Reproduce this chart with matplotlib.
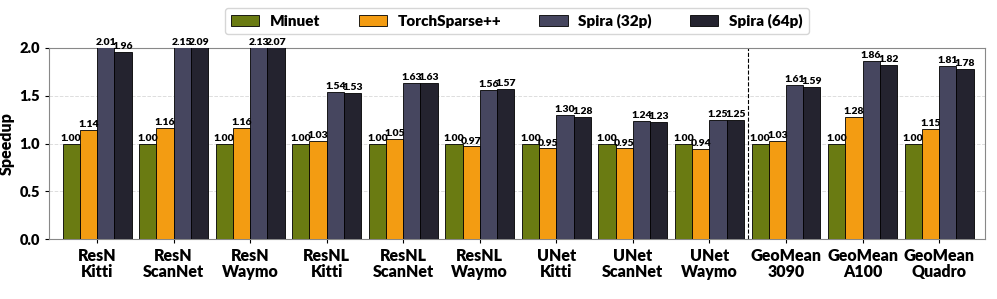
import matplotlib
matplotlib.use("Agg")
import matplotlib.pyplot as plt
import numpy as np

categories = ["ResN\nKitti", "ResN\nScanNet", "ResN\nWaymo", "ResNL\nKitti", "ResNL\nScanNet",
              "ResNL\nWaymo", "UNet\nKitti", "UNet\nScanNet", "UNet\nWaymo",
              "GeoMean\n3090", "GeoMean\nA100", "GeoMean\nQuadro"]
series_names = ["Minuet", "TorchSparse++", "Spira (32p)", "Spira (64p)"]
minuet = [1.00] * 12
torchsparse = [1.14, 1.16, 1.16, 1.03, 1.05, 0.97, 0.95, 0.95, 0.94, 1.03, 1.28, 1.15]
spira32 = [2.01, 2.15, 2.13, 1.54, 1.63, 1.56, 1.30, 1.24, 1.25, 1.61, 1.86, 1.81]
spira64 = [1.96, 2.09, 2.07, 1.53, 1.63, 1.57, 1.28, 1.23, 1.25, 1.59, 1.82, 1.78]
colors = ["#6a7b12", "#f39c12", "#46465f", "#24232f"]

WT = "heavy"
plt.rcParams['font.family'] = ['Lato', 'DejaVu Sans']
plt.rcParams['font.weight'] = WT

fig = plt.figure(figsize=(9.97, 2.99), dpi=100)
ax = fig.add_axes([0.049, 0.2, 0.939, 0.64])

x = np.arange(len(categories))
w = 0.225
ymax = 2.0
for i, (vals, name, c) in enumerate(zip([minuet, torchsparse, spira32, spira64], series_names, colors)):
    pos = x + (i - 1.5) * w
    ax.bar(pos, vals, w, color=c, edgecolor="black", linewidth=0.6, label=name, zorder=3)
    for p, v in zip(pos, vals):
        ax.text(p, min(v, ymax) + 0.008, f"{v:.2f}", ha="center", va="bottom",
                fontsize=7.5, fontweight=WT, zorder=4)

ax.set_ylim(0, ymax)
ax.set_xlim(-0.63, 11.6)
ax.set_yticks([0.0, 0.5, 1.0, 1.5, 2.0])
ax.set_yticklabels(["0.0", "0.5", "1.0", "1.5", "2.0"], fontsize=10.5, fontweight=WT)
ax.set_xticks(x)
ax.set_xticklabels(categories, fontsize=11.5, fontweight=WT, linespacing=1.0)
ax.set_ylabel("Speedup", fontsize=11.5, fontweight=WT)
ax.yaxis.set_label_coords(-0.036, 0.5)
ax.yaxis.grid(True, linestyle="--", color="#dddddd", linewidth=0.7, zorder=0)
ax.axvline(8.5, color="black", linestyle="--", linewidth=0.8, zorder=2)
for s in ax.spines.values():
    s.set_color("#888888")
ax.tick_params(axis="both", colors="black", length=3)

leg = ax.legend(loc="lower center", bbox_to_anchor=(0.5, 1.03), ncol=4, frameon=True,
                prop={"weight": WT, "size": 11}, handlelength=1.85, handleheight=0.65,
                handletextpad=0.7, columnspacing=2.5,
                edgecolor="#cccccc", fancybox=True, borderpad=0.4)

fig.savefig("out.png", dpi=100)
